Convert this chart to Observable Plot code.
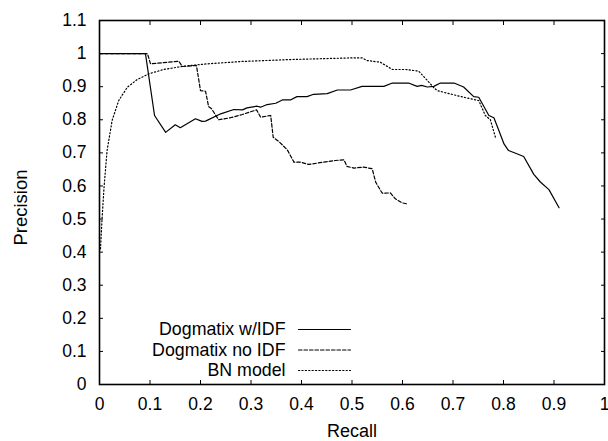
<!DOCTYPE html>
<html><head><meta charset="utf-8">
<script src="https://cdn.jsdelivr.net/npm/d3@7"></script>
<script src="https://cdn.jsdelivr.net/npm/@observablehq/plot@0.6"></script>
<style>body{margin:0;background:#fff}</style>
</head><body><div id="chart"></div>
<script>
const seriesNames = ["Dogmatix w/IDF", "Dogmatix no IDF", "BN model"];

const idfRecall = [0, 0.091, 0.109, 0.131, 0.150, 0.160, 0.190, 0.203, 0.210, 0.240, 0.266, 0.283, 0.292, 0.312, 0.319, 0.332, 0.349, 0.362, 0.378, 0.391, 0.411, 0.424, 0.451, 0.471, 0.497, 0.520, 0.563, 0.580, 0.612, 0.629, 0.638, 0.649, 0.662, 0.675, 0.702, 0.721, 0.741, 0.751, 0.771, 0.781, 0.791, 0.801, 0.810, 0.824, 0.840, 0.860, 0.873, 0.890, 0.910];
const idfPrecision = [1, 1, 0.813, 0.762, 0.785, 0.776, 0.803, 0.795, 0.796, 0.818, 0.831, 0.830, 0.836, 0.841, 0.838, 0.846, 0.850, 0.860, 0.860, 0.870, 0.870, 0.877, 0.879, 0.890, 0.890, 0.901, 0.901, 0.911, 0.911, 0.901, 0.904, 0.899, 0.901, 0.911, 0.911, 0.899, 0.870, 0.868, 0.813, 0.806, 0.767, 0.727, 0.707, 0.699, 0.689, 0.635, 0.612, 0.589, 0.534];

const noIdfRecall = [0, 0.095, 0.101, 0.157, 0.164, 0.192, 0.200, 0.210, 0.216, 0.222, 0.236, 0.259, 0.283, 0.311, 0.319, 0.339, 0.344, 0.356, 0.372, 0.385, 0.398, 0.414, 0.444, 0.467, 0.484, 0.490, 0.504, 0.523, 0.540, 0.547, 0.560, 0.576, 0.586, 0.599, 0.611];
const noIdfPrecision = [1, 1, 0.969, 0.977, 0.961, 0.964, 0.888, 0.886, 0.840, 0.833, 0.800, 0.806, 0.816, 0.830, 0.808, 0.813, 0.747, 0.733, 0.709, 0.672, 0.672, 0.665, 0.672, 0.677, 0.679, 0.659, 0.654, 0.657, 0.652, 0.611, 0.578, 0.579, 0.561, 0.549, 0.545];

const bnRecall = [0.002, 0.005, 0.009, 0.015, 0.025, 0.038, 0.055, 0.075, 0.098, 0.127, 0.167, 0.213, 0.279, 0.378, 0.497, 0.520, 0.530, 0.556, 0.580, 0.606, 0.632, 0.649, 0.662, 0.669, 0.695, 0.721, 0.751, 0.764, 0.774, 0.784];
const bnPrecision = [0.41, 0.50, 0.596, 0.707, 0.798, 0.858, 0.898, 0.922, 0.939, 0.952, 0.962, 0.969, 0.976, 0.982, 0.987, 0.987, 0.979, 0.974, 0.952, 0.952, 0.947, 0.919, 0.897, 0.888, 0.878, 0.868, 0.858, 0.813, 0.800, 0.747];

const xTicks = [0, 0.1, 0.2, 0.3, 0.4, 0.5, 0.6, 0.7, 0.8, 0.9, 1];
const yTicks = [0, 0.1, 0.2, 0.3, 0.4, 0.5, 0.6, 0.7, 0.8, 0.9, 1, 1.1];
const xLabel = "Recall";
const yLabel = "Precision";

const toRows = (xs, ys) => xs.map((x, i) => ({x, y: ys[i]}));
const series = [
  {name: seriesNames[0], rows: toRows(idfRecall, idfPrecision), dash: null},
  {name: seriesNames[1], rows: toRows(noIdfRecall, noIdfPrecision), dash: "3.5,2"},
  {name: seriesNames[2], rows: toRows(bnRecall, bnPrecision), dash: "1.2,2.2"}
];
const fmt = d => String(+d.toFixed(1));
const lineShape = {draw(ctx, l) { ctx.moveTo(0, 0); ctx.lineTo(0, -l); }};
const legendDy = [-55, -34.5, -14];

const marks = [
  Plot.frame({stroke: "black", strokeWidth: 1.6}),
  Plot.axisX(xTicks, {anchor: "bottom", tickSize: -4, tickPadding: 17, tickFormat: fmt, label: null, fontSize: 17.5}),
  Plot.axisX(xTicks, {anchor: "top", tickSize: -4, tickFormat: () => "", label: null}),
  Plot.axisY(yTicks, {anchor: "left", tickSize: -4, tickPadding: 17, tickFormat: fmt, label: null, fontSize: 17.5}),
  Plot.axisY(yTicks, {anchor: "right", tickSize: -4, tickFormat: () => "", label: null}),
  ...series.map(s => Plot.line(s.rows, {x: "x", y: "y", stroke: "black", strokeWidth: 1.2, strokeDasharray: s.dash})),
  ...series.map((s, i) => Plot.text([s.name], {frameAnchor: "bottom-left", dx: 186, dy: legendDy[i], textAnchor: "end", lineAnchor: "middle", fontSize: 17.8, text: d => d})),
  ...series.map((s, i) => Plot.vector([s.name], {frameAnchor: "bottom-left", dx: 199, dy: legendDy[i], length: 52, rotate: 90, anchor: "start", shape: lineShape, stroke: "black", strokeWidth: 1.2, strokeDasharray: s.dash})),
  Plot.text([xLabel], {frameAnchor: "bottom", dy: 47, textAnchor: "middle", lineAnchor: "middle", fontSize: 18, text: d => d}),
  Plot.text([yLabel], {frameAnchor: "left", dx: -78, dy: 5, rotate: -90, textAnchor: "middle", lineAnchor: "middle", fontSize: 18.5, text: d => d})
];

const chart = Plot.plot({
  width: 608,
  height: 441,
  marginLeft: 99,
  marginRight: 4,
  marginTop: 20,
  marginBottom: 57,
  x: {domain: [0, 1]},
  y: {domain: [0, 1.1]},
  style: {fontFamily: "'Liberation Sans', Arial, Helvetica, sans-serif", fontSize: "17px", background: "white", color: "black"},
  marks
});
document.getElementById("chart").appendChild(chart);
</script>
</body></html>
